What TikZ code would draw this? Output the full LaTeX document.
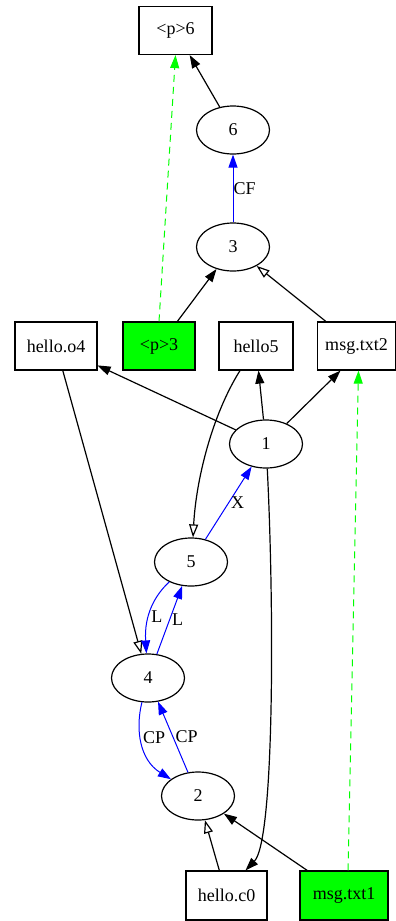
\documentclass[tikz,border=0pt]{standalone}
\usepackage{fontspec}
\setmainfont{Liberation Serif}
\usetikzlibrary{arrows.meta,shapes.geometric}
\begin{document}
\begin{tikzpicture}[x=1pt,y=-1pt,
  font=\fontsize{18}{20}\selectfont,
  box/.style={draw, line width=1.2pt, rectangle, inner sep=0pt, minimum height=48pt},
  oval/.style={draw, line width=1.2pt, ellipse, inner sep=0pt, minimum width=73pt, minimum height=48pt},
  hit/.style={fill=green},
  arr/.style={line width=1.2pt, -{Triangle[length=13pt,width=9pt]}},
  oarr/.style={line width=1.2pt, -{Triangle[open,length=13pt,width=9pt]}},
  barr/.style={line width=1pt, blue, -{Triangle[length=13pt,width=9pt]}},
  garr/.style={line width=1pt, green, dash pattern=on 7pt off 5pt, -{Triangle[length=13pt,width=9pt]}},
  lab/.style={inner sep=2pt, text=black}
]
\useasboundingbox (0,0) rectangle (396,921);

% nodes
\node[box, minimum width=73pt] (p6) at (175.5,30.5) {<p>6};
\node[oval] (e6) at (233,130) {6};
\node[oval] (e3) at (233,247) {3};
\node[box, minimum width=82pt] (ho) at (56,346) {hello.o4};
\node[box, hit, minimum width=72pt] (p3) at (159,346) {<p>3};
\node[box, minimum width=74pt] (h5) at (256,346) {hello5};
\node[box, minimum width=78pt] (m2) at (356.5,346) {msg.txt2};
\node[oval] (e1) at (266,444) {1};
\node[oval] (e5) at (191,562) {5};
\node[oval] (e4) at (148,678) {4};
\node[oval] (e2) at (198,796) {2};
\node[box, minimum width=81pt, minimum height=49pt] (hc) at (226.5,895.5) {hello.c0};
\node[box, hit, minimum width=88pt, minimum height=49pt] (m1) at (344,895.5) {msg.txt1};

% edges
\draw[arr] (e6) -- (p6);
\draw[barr] (e3) -- node[lab, right, inner sep=0pt] {CF} (e6);
\draw[arr] (p3) -- (e3);
\draw[garr] (p3.north) -- (p6.south);
\draw[oarr] (m2) -- (e3);
\draw[arr] (e1) -- (ho);
\draw[arr] (e1) -- (h5);
\draw[arr] (e1) -- ([xshift=-16pt]m2.south);
\draw[oarr] ([xshift=-16pt]h5.south) .. controls (212,415) and (196,480) .. ([xshift=2pt]e5.north);
\draw[barr] (e5) -- node[lab, right] {X} (e1);
\draw[oarr] (ho) -- (e4);
\draw[barr] (e5) .. controls (155,595) and (144,615) .. node[lab, right, pos=0.62] {L} (e4);
\draw[barr] (e4) -- node[lab, right] {L} (e5);
\draw[barr] (e4) .. controls (135,730) and (140,760) .. node[lab, right, pos=0.42] {CP} (e2);
\draw[barr] (e2) -- node[lab, right] {CP} (e4);
\draw[arr] (e1) .. controls (274,600) and (275,840) .. ([xshift=19pt]hc.north);
\draw[oarr] (hc) -- (e2);
\draw[arr] (m1) -- (e2);
\draw[garr] ([xshift=4pt]m1.north) -- ([xshift=2pt]m2.south);
\end{tikzpicture}
\end{document}
